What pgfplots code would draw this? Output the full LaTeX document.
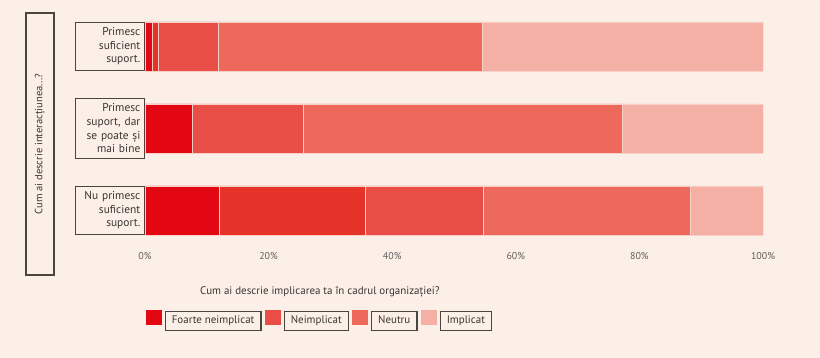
\documentclass[border=0pt]{standalone}
\usepackage{pgfplots}
\pgfplotsset{compat=1.18}
\usepackage{fontspec}
\setmainfont{PT Sans}
\definecolor{bg}{HTML}{FCEFE7}
\definecolor{sA}{HTML}{E30613}
\definecolor{sB}{HTML}{E5332A}
\definecolor{sC}{HTML}{E84E45}
\definecolor{sD}{HTML}{EC695B}
\definecolor{sE}{HTML}{F4B0A5}
\definecolor{sep}{HTML}{F8CFC6}
\definecolor{bord}{HTML}{4A4541}
\definecolor{txt}{HTML}{3A3634}
\newcommand{\lbox}[1]{\fcolorbox{bord}{bg}{\hspace{3.5bp}\strut #1\hspace{3.5bp}}}
\begin{document}
\begin{tikzpicture}
\fill[bg] (-145bp,-123bp) rectangle (675bp,235bp);
\setlength{\fboxrule}{1.2bp}
\setlength{\fboxsep}{2.5bp}
\begin{axis}[
  at={(0,0)}, anchor=south west,
  scale only axis, width=618bp, height=213.2bp,
  xbar stacked, bar width=49bp,
  xmin=0, xmax=100, ymin=-0.3, ymax=2.3,
  axis line style={draw=none}, major tick length=0pt,
  xtick={0,20,40,60,80,100},
  xticklabels={0\%,20\%,40\%,60\%,80\%,100\%},
  xticklabel style={font=\fontsize{10}{12}\selectfont, text=txt!80, yshift=-14bp},
  ytick={0,1,2},
  yticklabels={{Nu primesc\\suficient\\suport.},{Primesc\\suport, dar\\se poate și\\mai bine},{Primesc\\suficient\\suport.}},
  yticklabel style={draw=bord, line width=1.3bp, align=right, text width=61bp,
    inner xsep=4bp, inner ysep=5.3bp, font=\fontsize{11.5}{13.7}\selectfont, text=txt, anchor=east, xshift=0bp},
  ylabel={Cum ai descrie interacțiunea...?},
  ylabel style={draw=bord, line width=1.3bp, minimum width=262bp, minimum height=28bp,
    at={(axis description cs:-0.1699,0.4268)}, anchor=center, font=\fontsize{10.6}{12}\selectfont, text=txt},
  xlabel={Cum ai descrie implicarea ta în cadrul organizației?},
  xlabel style={at={(axis description cs:0.283,-0.267)}, anchor=center, font=\fontsize{11}{13}\selectfont, text=txt},
  legend style={at={(axis description cs:0.283,-0.389)}, anchor=center, draw=none, fill=none,
    legend columns=-1, font=\fontsize{11}{13.5}\selectfont, text=txt,
    /tikz/every even column/.append style={column sep=1bp},
    /tikz/every odd column/.append style={column sep=1bp}},
  legend image code/.code={\fill[#1,draw=none] (0bp,-7.5bp) rectangle (16bp,7.5bp);},
  every axis plot/.append style={draw=sep, line width=0.6bp},
]
\addplot[fill=sA] coordinates {(12.0,0) (7.6,1) (1.2,2)};
\addplot[fill=sB, forget plot] coordinates {(23.7,0) (0,1) (0.9,2)};
\addplot[fill=sC] coordinates {(19.0,0) (18.0,1) (9.7,2)};
\addplot[fill=sD] coordinates {(33.6,0) (51.6,1) (42.8,2)};
\addplot[fill=sE] coordinates {(11.7,0) (22.8,1) (45.4,2)};
\legend{\lbox{Foarte neimplicat},\lbox{Neimplicat},\lbox{Neutru},\lbox{Implicat}}
\end{axis}
\end{tikzpicture}
\end{document}
